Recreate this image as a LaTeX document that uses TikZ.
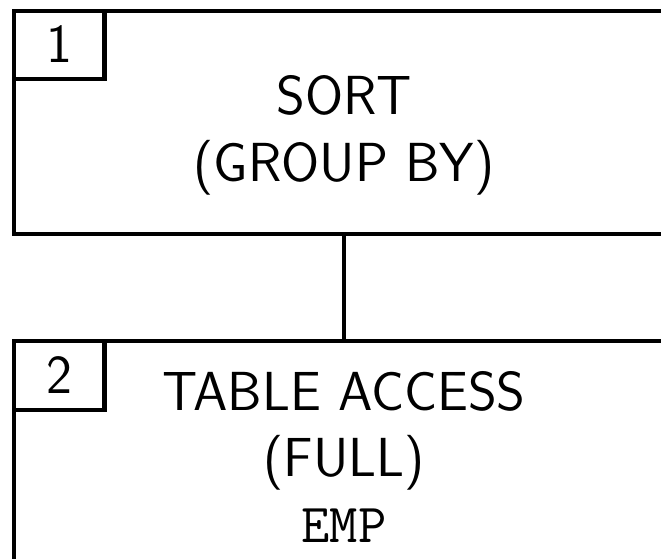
\documentclass[tikz,border=0pt]{standalone}
\begin{document}
\begin{tikzpicture}[x=1pt,y=-1pt,
  frame/.style={draw=black,line width=4.8pt,fill=none},
  lbl/.style={font=\sffamily\fontsize{55}{66}\selectfont,inner sep=0pt,anchor=base},
  conn/.style={draw=black,line width=4.8pt}]
\useasboundingbox (0,0) rectangle (661,559);
\clip (0,0) rectangle (661,559);
\draw[frame] (14,11) rectangle (720,234);
\draw[frame] (14,11) rectangle (104.5,79);
\draw[frame] (14,341) rectangle (720,620);
\draw[frame] (14,341) rectangle (104.5,410);
\node[lbl] (n1) at (59,63) {1};
\node[lbl] (n2) at (59,393) {2};
\node[lbl] (t1a) at (344,115) {SORT};
\node[lbl] (t1b) at (344,181) {(GROUP BY)};
\node[lbl] (t2a) at (344,410) {TABLE ACCESS};
\node[lbl] (t2b) at (344,476) {(FULL)};
\node[lbl,font=\ttfamily\fontsize{55}{66}\selectfont] (t2c) at (344,542) {EMP};
\coordinate (c1) at (344,234);
\coordinate (c2) at (344,341);
\draw[conn] (c1) -- (c2);
\end{tikzpicture}
\end{document}
